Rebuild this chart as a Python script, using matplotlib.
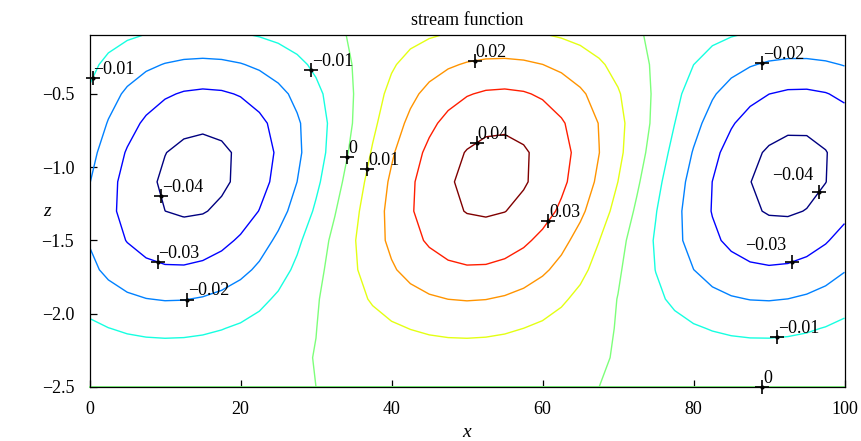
import numpy as np
import matplotlib
matplotlib.use("Agg")
import matplotlib.pyplot as plt
from matplotlib.transforms import offset_copy

plt.rcParams['font.family'] = ['Liberation Serif', 'DejaVu Serif']
plt.rcParams['axes.unicode_minus'] = True

# ---- data ----
x_grid = [0.0, 2.5, 5.0, 7.5, 10.0, 12.5, 15.0, 17.5, 20.0, 22.5, 25.0, 27.5,
          30.0, 32.5, 35.0, 37.5, 40.0, 42.5, 45.0, 47.5, 50.0, 52.5, 55.0,
          57.5, 60.0, 62.5, 65.0, 67.5, 70.0, 72.5, 75.0, 77.5, 80.0, 82.5,
          85.0, 87.5, 90.0, 92.5, 95.0, 97.5, 100.0]
z_grid = [-2.5, -2.3, -2.1, -1.9, -1.7, -1.5, -1.3, -1.1, -0.9, -0.7, -0.5,
          -0.3, -0.1]

# horizontal structure of the cells (two modes)
x_mode_a = [-0.4604, -0.6270, -0.7688, -0.8803, -0.9568, -0.9954, -0.9946,
            -0.9544, -0.8763, -0.7638, -0.6209, -0.4532, -0.2678, -0.0717,
            0.1272, 0.3211, 0.5023, 0.6636, 0.7986, 0.9020, 0.9696, 0.9989,
            0.9885, 0.9391, 0.8526, 0.7322, 0.5828, 0.4101, 0.2214, 0.0239,
            -0.1745, -0.3661, -0.5430, -0.6985, -0.8264, -0.9216, -0.9802,
            -1.0000, -0.9802, -0.9216, -0.8264]
x_mode_b = [-0.8877, -0.7790, -0.6394, -0.4744, -0.2907, -0.0955, 0.1035,
            0.2984, 0.4814, 0.6455, 0.7839, 0.8914, 0.9635, 0.9974, 0.9919,
            0.9470, 0.8647, 0.7481, 0.6018, 0.4318, 0.2446, 0.0478, -0.1509,
            -0.3437, -0.5228, -0.6811, -0.8126, -0.9120, -0.9752, -0.9997,
            -0.9847, -0.9306, -0.8397, -0.7156, -0.5631, -0.3882, -0.1980,
            0.0000, 0.1980, 0.3882, 0.5631]
# vertical amplitude of each mode
z_amp_a = [0.0, 0.00543, 0.01178, 0.01994, 0.02851, 0.03547, 0.04103,
           0.04340, 0.04250, 0.03825, 0.03135, 0.02207, 0.01199]
z_amp_b = [0.0, 0.00172, 0.00317, 0.00478, 0.00529, 0.00484, 0.00246,
           -0.00035, -0.00295, -0.00438, -0.00397, -0.00242, -0.00058]

levels = [-0.04, -0.03, -0.02, -0.01, 0.0, 0.01, 0.02, 0.03, 0.04]

# approximate spots where labels sit on the contours
label_points = [(0.42, -0.394), (29.4, -0.338), (9.2, -1.202), (34.06, -0.929),
                (36.6, -1.008), (51.06, -0.269), (51.06, -0.815),
                (60.86, -1.372), (8.98, -1.652), (13.0, -1.911),
                (89.1, -0.285), (96.85, -1.179), (93.1, -1.649),
                (91.1, -2.152)]
wall_label_x = 89.1

xticks = [0, 20, 40, 60, 80, 100]
yticks = [-2.5, -2.0, -1.5, -1.0, -0.5]

psi = np.outer(z_amp_a, x_mode_a) + np.outer(z_amp_b, x_mode_b)

# ---- figure ----
fig = plt.figure(figsize=(8.61, 4.41), dpi=100)
ax = fig.add_axes([89.5 / 861, 54 / 441, 755 / 861, 351.7 / 441])

cmap = plt.get_cmap('jet')
cs = ax.contour(x_grid, z_grid, psi, levels=levels, cmap=cmap,
                linewidths=1.0, zorder=2)
ax.set_xlim(x_grid[0], x_grid[-1])
ax.set_ylim(z_grid[0], z_grid[-1])

# zero stream line along the bottom wall
ax.plot([x_grid[0], x_grid[-1]], [z_grid[0], z_grid[0]],
        color=cmap(0.5), lw=1.3, zorder=2, clip_on=False)


def fmt(v):
    s = f"{v:g}"
    if s in ("-0", "0"):
        return "0"
    return s.replace("-", "\u2212")


ax.clabel(cs, levels=levels, inline=False, manual=label_points, fmt=fmt,
          fontsize=13, colors='k')


def style_label(t, xd, yd):
    right = (xd - x_grid[0]) / (x_grid[-1] - x_grid[0]) > 0.92
    ax.plot([xd], [yd], marker='+', ms=10, mew=1.2, color='k',
            clip_on=False, zorder=5)
    ax.plot([xd], [yd], marker='o', ms=3, color='k', mew=0,
            clip_on=False, zorder=5)
    tr = offset_copy(ax.transData, fig=fig, x=(-4 if right else 0.5),
                     y=(8.5 if right else 3), units='points')
    t.set_transform(tr)
    t.set_rotation(0)
    t.set_ha('right' if right else 'left')
    t.set_va('baseline')
    t.set_clip_on(False)
    t.set_zorder(6)


for t in list(cs.labelTexts):
    xd, yd = t.get_position()
    style_label(t, xd, yd)

wt = ax.text(wall_label_x, z_grid[0], fmt(levels[4]), fontsize=13, color='k')
style_label(wt, wall_label_x, z_grid[0])

ax.set_xticks(xticks)
ax.set_yticks(yticks)
ax.tick_params(direction='in', length=5, width=0.9, labelsize=13,
               top=False, right=False)
ax.tick_params(axis='y', pad=11)
ax.tick_params(axis='x', pad=10)
for sp in ax.spines.values():
    sp.set_linewidth(0.9)
    sp.set_zorder(3)

ax.set_title('stream function', fontsize=13, pad=7.5)
ax.set_xlabel('x', fontsize=14, fontstyle='italic')
ax.xaxis.label.set_va('baseline')
ax.xaxis.set_label_coords(0.5, -(437 - 387) / 351.7)
ax.set_ylabel('z', fontsize=14, fontstyle='italic', rotation=0,
              ha='center', va='center')
ax.yaxis.set_label_coords((47 - 89.5) / 755, 0.5)

fig.savefig('out.png', dpi=100)
